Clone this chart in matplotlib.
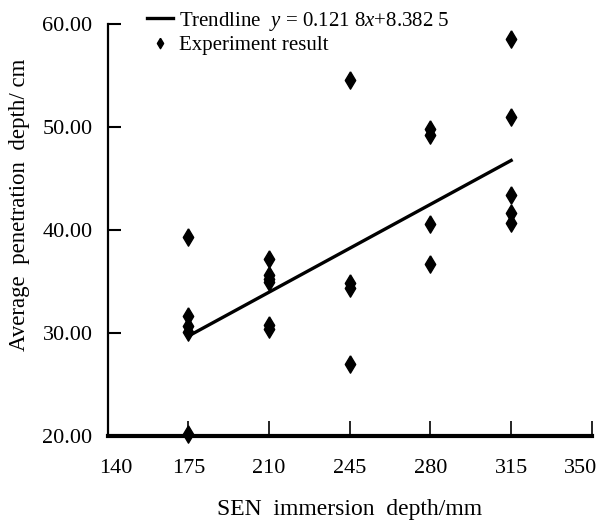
import matplotlib
matplotlib.use("Agg")
import matplotlib.pyplot as plt
import matplotlib.transforms as mtransforms
import numpy as np

# SEN immersion depth (mm) and measured average penetration depth (cm)
depth_175 = [39.3, 31.6, 30.7, 30.1, 20.2]
depth_210 = [37.2, 35.6, 35.2, 34.9, 30.8, 30.4]
depth_245 = [54.6, 34.8, 34.4, 27.0]
depth_280 = [49.8, 49.2, 40.6, 36.7]
depth_315 = [58.5, 51.0, 43.4, 41.6, 40.7]
immersion = [175, 210, 245, 280, 315]

slope = 0.1218
intercept = 8.3825

x_ticks = [140, 175, 210, 245, 280, 315, 350]
y_ticks = [20, 30, 40, 50, 60]

plt.rcParams["font.family"] = ["Liberation Serif", "DejaVu Serif"]
plt.rcParams["mathtext.fontset"] = "custom"
plt.rcParams["mathtext.it"] = "Liberation Serif:italic"
plt.rcParams["mathtext.rm"] = "Liberation Serif"

fig = plt.figure(figsize=(5.99, 5.22), dpi=100)
ax = fig.add_axes([0.180, 0.165, 0.808, 0.789])

groups = [depth_175, depth_210, depth_245, depth_280, depth_315]
xs = np.concatenate([[x] * len(g) for x, g in zip(immersion, groups)])
ys = np.concatenate(groups)

diamond = [(0, 1), (0.6, 0), (0, -1), (-0.6, 0), (0, 1)]

line_x = np.array([immersion[0], immersion[-1]])
ax.plot(line_x, slope * line_x + intercept, color="black", lw=2.4,
        label="Trendline  $y$ = 0.121 8$x$+8.382 5", zorder=2)
ax.plot(xs, ys, linestyle="none", marker=diamond, markersize=12.5,
        color="black", label="Experiment result", zorder=3, clip_on=False)

ax.set_xlim(140, 350)
ax.set_ylim(20, 60)
ax.set_xticks(x_ticks)
ax.set_yticks(y_ticks)
ax.set_yticklabels([f"{v:.2f}" for v in y_ticks])
ax.tick_params(axis="x", direction="in", length=11, width=1.2, labelsize=16, pad=17)
ax.tick_params(axis="y", direction="in", length=9, width=1.5, labelsize=16, pad=11)

# the end labels sit slightly inside the axis ends in the original
xlabels = ax.get_xticklabels()
for lab, dx in ((xlabels[0], 8), (xlabels[-1], -11)):
    lab.set_transform(lab.get_transform()
                      + mtransforms.ScaledTranslation(dx / 100, 0, fig.dpi_scale_trans))

for side in ("top", "right"):
    ax.spines[side].set_visible(False)
ax.spines["left"].set_linewidth(1.6)
ax.spines["bottom"].set_linewidth(3.0)

ax.set_xlabel("SEN  immersion  depth/mm", fontsize=17, labelpad=15)
ax.set_ylabel("Average  penetration  depth/ cm", fontsize=16.5)
ax.yaxis.set_label_coords(-0.16, 0.56)

ax.legend(loc="upper left", bbox_to_anchor=(0.081, 1.035), frameon=False,
          fontsize=15, handlelength=1.25, handletextpad=0.3,
          labelspacing=0.15, borderaxespad=0, borderpad=0, markerscale=0.6)

fig.savefig("out.png", dpi=100)
